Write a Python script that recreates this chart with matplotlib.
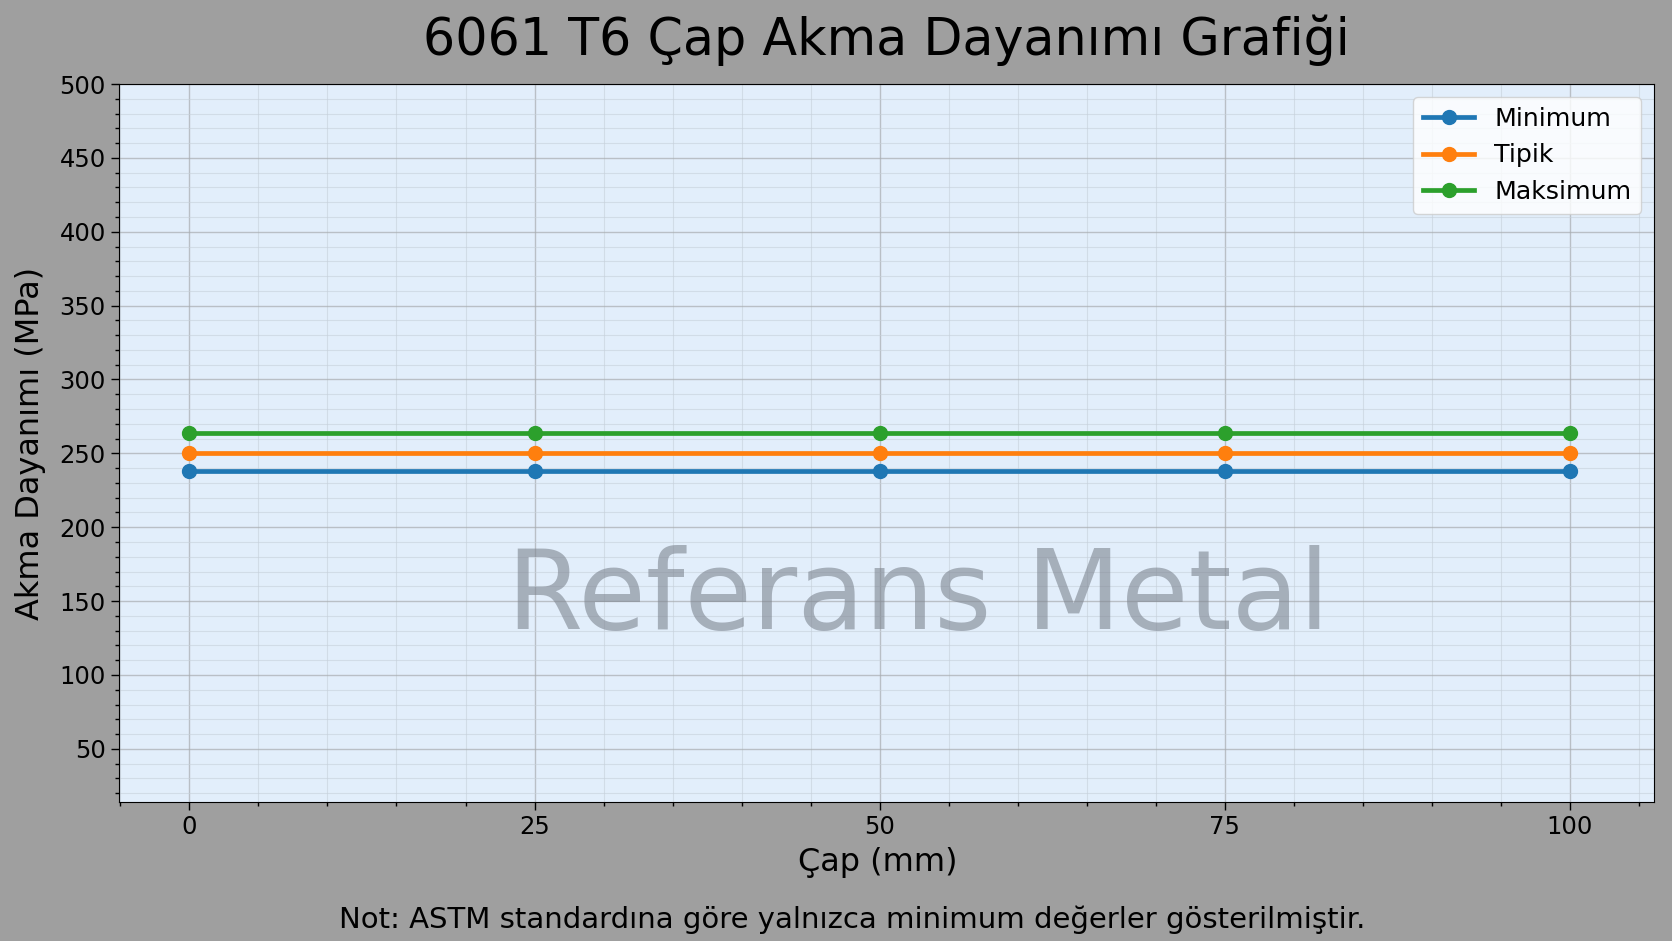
import matplotlib
matplotlib.use("Agg")
import matplotlib.pyplot as plt
from matplotlib.ticker import MultipleLocator

# data
diameters = [0, 25, 50, 75, 100]
yield_min = [238, 238, 238, 238, 238]
yield_typ = [250, 250, 250, 250, 250]
yield_max = [264, 264, 264, 264, 264]
series_names = ["Minimum", "Tipik", "Maksimum"]
series_colors = ["#1f77b4", "#ff7f0e", "#2ca02c"]

fig = plt.figure(figsize=(16.72, 9.41), dpi=100, facecolor="#9f9f9f")
ax = fig.add_axes([0.0712, 0.1477, 0.9180, 0.7630])
ax.set_facecolor("#e2eefb")

for vals, name, col in zip([yield_min, yield_typ, yield_max], series_names, series_colors):
    ax.plot(diameters, vals, color=col, lw=3.4, marker="o", ms=10, label=name, zorder=3)

ax.set_xlim(-5.1, 106.1)
ax.set_ylim(14, 500)
ax.xaxis.set_major_locator(MultipleLocator(25))
ax.xaxis.set_minor_locator(MultipleLocator(5))
ax.yaxis.set_minor_locator(MultipleLocator(10))
ax.set_yticks(range(50, 501, 50))
ax.tick_params(which="major", length=6, width=1, labelsize=17.5)
ax.tick_params(which="minor", length=3, width=1)

ax.grid(which="major", color="#a8acb0", lw=1, alpha=0.7)
ax.grid(which="minor", color="#c6d0da", lw=0.8, alpha=0.6)
ax.set_axisbelow(True)

ax.set_title("6061 T6 Çap Akma Dayanımı Grafiği", fontsize=36.5, pad=21)
ax.set_xlabel("Çap (mm)", fontsize=23, labelpad=7)
ax.xaxis.set_label_coords(0.494, -0.062)
ax.set_ylabel("Akma Dayanımı (MPa)", fontsize=23, labelpad=10)

ax.legend(loc="upper right", fontsize=18.2)

fig.text(0.549, 0.3316, "Referans Metal", fontsize=79, color="#7d8590",
         alpha=0.6, ha="center", va="baseline")
fig.text(0.5096, 0.0143, "Not: ASTM standardına göre yalnızca minimum değerler gösterilmiştir.",
         fontsize=21, ha="center", va="baseline")

fig.savefig("out.png", dpi=100, facecolor=fig.get_facecolor())
